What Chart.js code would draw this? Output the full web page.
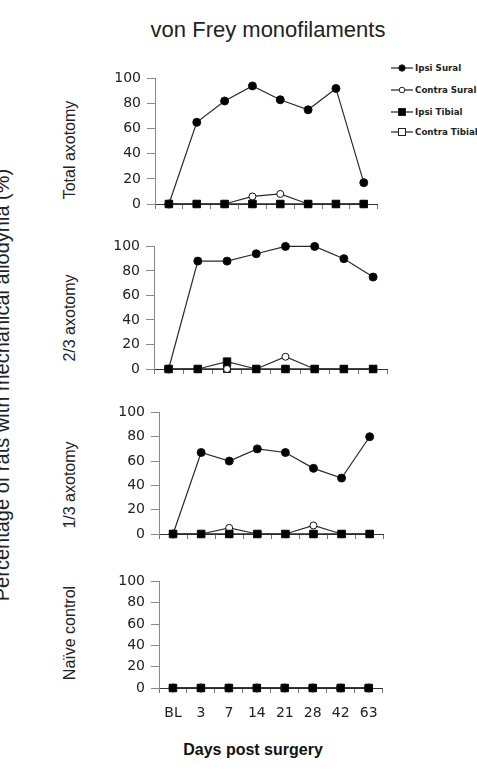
<!DOCTYPE html>
<html>
<head>
<meta charset="utf-8">
<script src="https://cdn.jsdelivr.net/npm/chart.js@4.4.0/dist/chart.umd.min.js"></script>
<style>
  body { margin: 0; background: #fff; }
  #page { position: relative; width: 477px; height: 770px; overflow: hidden; background: #fff; }
  .abs { position: absolute; white-space: nowrap; }
  .title { font: 22px "Liberation Sans", Arial, sans-serif; color: #222; }
  .rot { transform: translate(-50%, -50%) rotate(-90deg); font-family: "Liberation Sans", Arial, sans-serif; color: #222; }
  .legend-item { position: absolute; left: 391px; height: 12px; display: flex; align-items: center; font: bold 8.7px "DejaVu Sans", Verdana, sans-serif; color: #222; white-space: nowrap; }
  .legend-item svg { margin-right: 2px; }
  .xlabel { font: bold 16px "Liberation Sans", Arial, sans-serif; color: #111; }
</style>
</head>
<body>
<div id="page">
  <div class="abs title" style="left:268px; top:17px; transform:translateX(-50%);">von Frey monofilaments</div>
  <div class="abs rot" style="left:2px; top:385px; font-size:20px;">Percentage of rats with mechanical allodynia (%)</div>
  <div class="abs xlabel" style="left:253px; top:741px; transform:translateX(-50%);">Days post surgery</div>
  <div id="legend"></div>
  <div id="panels"></div>
</div>
<script>
const days = ['BL', '3', '7', '14', '21', '28', '42', '63'];
const yTicks = [0, 20, 40, 60, 80, 100];
const seriesNames = ['Ipsi Sural', 'Contra Sural', 'Ipsi Tibial', 'Contra Tibial'];

// Total axotomy
const totalIpsiSural = [0, 65, 82, 94, 83, 75, 92, 17];
const totalContraSural = [0, 0, 0, 6, 8, 0, 0, 0];
const totalIpsiTibial = [0, 0, 0, 0, 0, 0, 0, 0];
const totalContraTibial = [0, 0, 0, 0, 0, 0, 0, 0];

// 2/3 axotomy
const twoThirdIpsiSural = [0, 88, 88, 94, 100, 100, 90, 75];
const twoThirdContraSural = [0, 0, 0, 0, 10, 0, 0, 0];
const twoThirdIpsiTibial = [0, 0, 6, 0, 0, 0, 0, 0];
const twoThirdContraTibial = [0, 0, 0, 0, 0, 0, 0, 0];

// 1/3 axotomy
const oneThirdIpsiSural = [0, 67, 60, 70, 67, 54, 46, 80];
const oneThirdContraSural = [0, 0, 5, 0, 0, 7, 0, 0];
const oneThirdIpsiTibial = [0, 0, 0, 0, 0, 0, 0, 0];
const oneThirdContraTibial = [0, 0, 0, 0, 0, 0, 0, 0];

// Naive control
const naiveIpsiSural = [0, 0, 0, 0, 0, 0, 0, 0];
const naiveContraSural = [0, 0, 0, 0, 0, 0, 0, 0];
const naiveIpsiTibial = [0, 0, 0, 0, 0, 0, 0, 0];
const naiveContraTibial = [0, 0, 0, 0, 0, 0, 0, 0];

const panelNames = ['Total axotomy', '2/3 axotomy', '1/3 axotomy', 'Na\u00efve control'];

// marker look for each series
const styles = [
    { pointStyle: 'circle', radius: 4, fill: '#000', order: 1 },
    { pointStyle: 'circle', radius: 3.5, fill: '#fff', order: 2 },
    { pointStyle: 'rect', radius: 5.3, fill: '#000', order: 0 },
    { pointStyle: 'rect', radius: 5, fill: '#fff', order: 3 }
];

// axis geometry of each panel: y-axis x, right edge, y of 100, y of 0, label centre
const layouts = [
    { axisX: 155, right: 378, top: 76, bottom: 204, labelY: 150 },
    { axisX: 154, right: 388, top: 244, bottom: 369, labelY: 318 },
    { axisX: 159, right: 384, top: 410, bottom: 534, labelY: 485 },
    { axisX: 159, right: 384, top: 579, bottom: 688, labelY: 633 }
];

const panelData = [
    [totalIpsiSural, totalContraSural, totalIpsiTibial, totalContraTibial],
    [twoThirdIpsiSural, twoThirdContraSural, twoThirdIpsiTibial, twoThirdContraTibial],
    [oneThirdIpsiSural, oneThirdContraSural, oneThirdIpsiTibial, oneThirdContraTibial],
    [naiveIpsiSural, naiveContraSural, naiveIpsiTibial, naiveContraTibial]
];

function markerSvg(style) {
    const ns = 'http://www.w3.org/2000/svg';
    const svg = document.createElementNS(ns, 'svg');
    svg.setAttribute('width', '22');
    svg.setAttribute('height', '10');
    const line = document.createElementNS(ns, 'line');
    line.setAttribute('x1', '0'); line.setAttribute('y1', '5');
    line.setAttribute('x2', '22'); line.setAttribute('y2', '5');
    line.setAttribute('stroke', '#222'); line.setAttribute('stroke-width', '1.2');
    svg.appendChild(line);
    let mark;
    if (style.pointStyle === 'circle') {
        mark = document.createElementNS(ns, 'circle');
        mark.setAttribute('cx', '11'); mark.setAttribute('cy', '5'); mark.setAttribute('r', style.fill === '#000' ? '3.2' : '2.8');
    } else {
        mark = document.createElementNS(ns, 'rect');
        mark.setAttribute('x', '7.5'); mark.setAttribute('y', '1.5'); mark.setAttribute('width', '7'); mark.setAttribute('height', '7');
    }
    mark.setAttribute('fill', style.fill);
    mark.setAttribute('stroke', '#222');
    mark.setAttribute('stroke-width', '1');
    svg.appendChild(mark);
    return svg;
}

const legendTops = [62, 84, 106, 126];
const legend = document.getElementById('legend');
seriesNames.forEach((name, i) => {
    const item = document.createElement('div');
    item.className = 'legend-item';
    item.style.top = legendTops[i] + 'px';
    item.appendChild(markerSvg(styles[i]));
    item.appendChild(document.createTextNode(name));
    legend.appendChild(item);
});

const panels = document.getElementById('panels');
const canvasLeft = 80;
const padTop = 12;

panelData.forEach((series, p) => {
    const lay = layouts[p];
    const isLast = p === panelData.length - 1;
    const xHeight = isLast ? 30 : 16;
    const width = lay.right + 6 - canvasLeft;
    const height = padTop + (lay.bottom - lay.top) + xHeight;

    const label = document.createElement('div');
    label.className = 'abs rot';
    label.style.left = '70px';
    label.style.top = lay.labelY + 'px';
    label.style.fontSize = '16px';
    label.textContent = panelNames[p];
    panels.appendChild(label);

    const canvas = document.createElement('canvas');
    canvas.width = width;
    canvas.height = height;
    canvas.style.position = 'absolute';
    canvas.style.left = canvasLeft + 'px';
    canvas.style.top = (lay.top - padTop) + 'px';
    panels.appendChild(canvas);

    const datasets = series.map((values, i) => ({
        label: seriesNames[i],
        data: values,
        borderColor: '#2a2a2a',
        borderWidth: 1.2,
        pointStyle: styles[i].pointStyle,
        pointRadius: styles[i].radius,
        pointBackgroundColor: styles[i].fill,
        pointBorderColor: '#111',
        pointBorderWidth: 1,
        order: styles[i].order,
        clip: false,
        tension: 0
    }));

    new Chart(canvas.getContext('2d'), {
        type: 'line',
        data: { labels: days, datasets: datasets },
        options: {
            responsive: false,
            animation: false,
            devicePixelRatio: 1,
            layout: { padding: { top: padTop, right: 6, left: 0, bottom: 0 } },
            plugins: { legend: { display: false }, tooltip: { enabled: false } },
            scales: {
                x: {
                    type: 'category',
                    offset: true,
                    grid: { offset: true, drawOnChartArea: false, drawTicks: true, tickLength: 5, color: '#777' },
                    border: { color: '#333', width: 1 },
                    ticks: {
                        display: isLast,
                        color: '#222',
                        padding: 12,
                        maxRotation: 0,
                        autoSkip: false,
                        font: { family: 'DejaVu Sans', size: 14 }
                    },
                    afterFit: scale => { scale.height = xHeight; }
                },
                y: {
                    min: 0,
                    max: 100,
                    afterBuildTicks: scale => { scale.ticks = yTicks.map(v => ({ value: v })); },
                    grid: { drawOnChartArea: false, drawTicks: true, tickLength: 8, color: '#888' },
                    border: { color: '#888', width: 1 },
                    ticks: {
                        color: '#222',
                        padding: 6,
                        font: { family: 'DejaVu Sans', size: 14 }
                    },
                    afterFit: scale => { scale.width = lay.axisX - canvasLeft; }
                }
            }
        }
    });
});
</script>
</body>
</html>
